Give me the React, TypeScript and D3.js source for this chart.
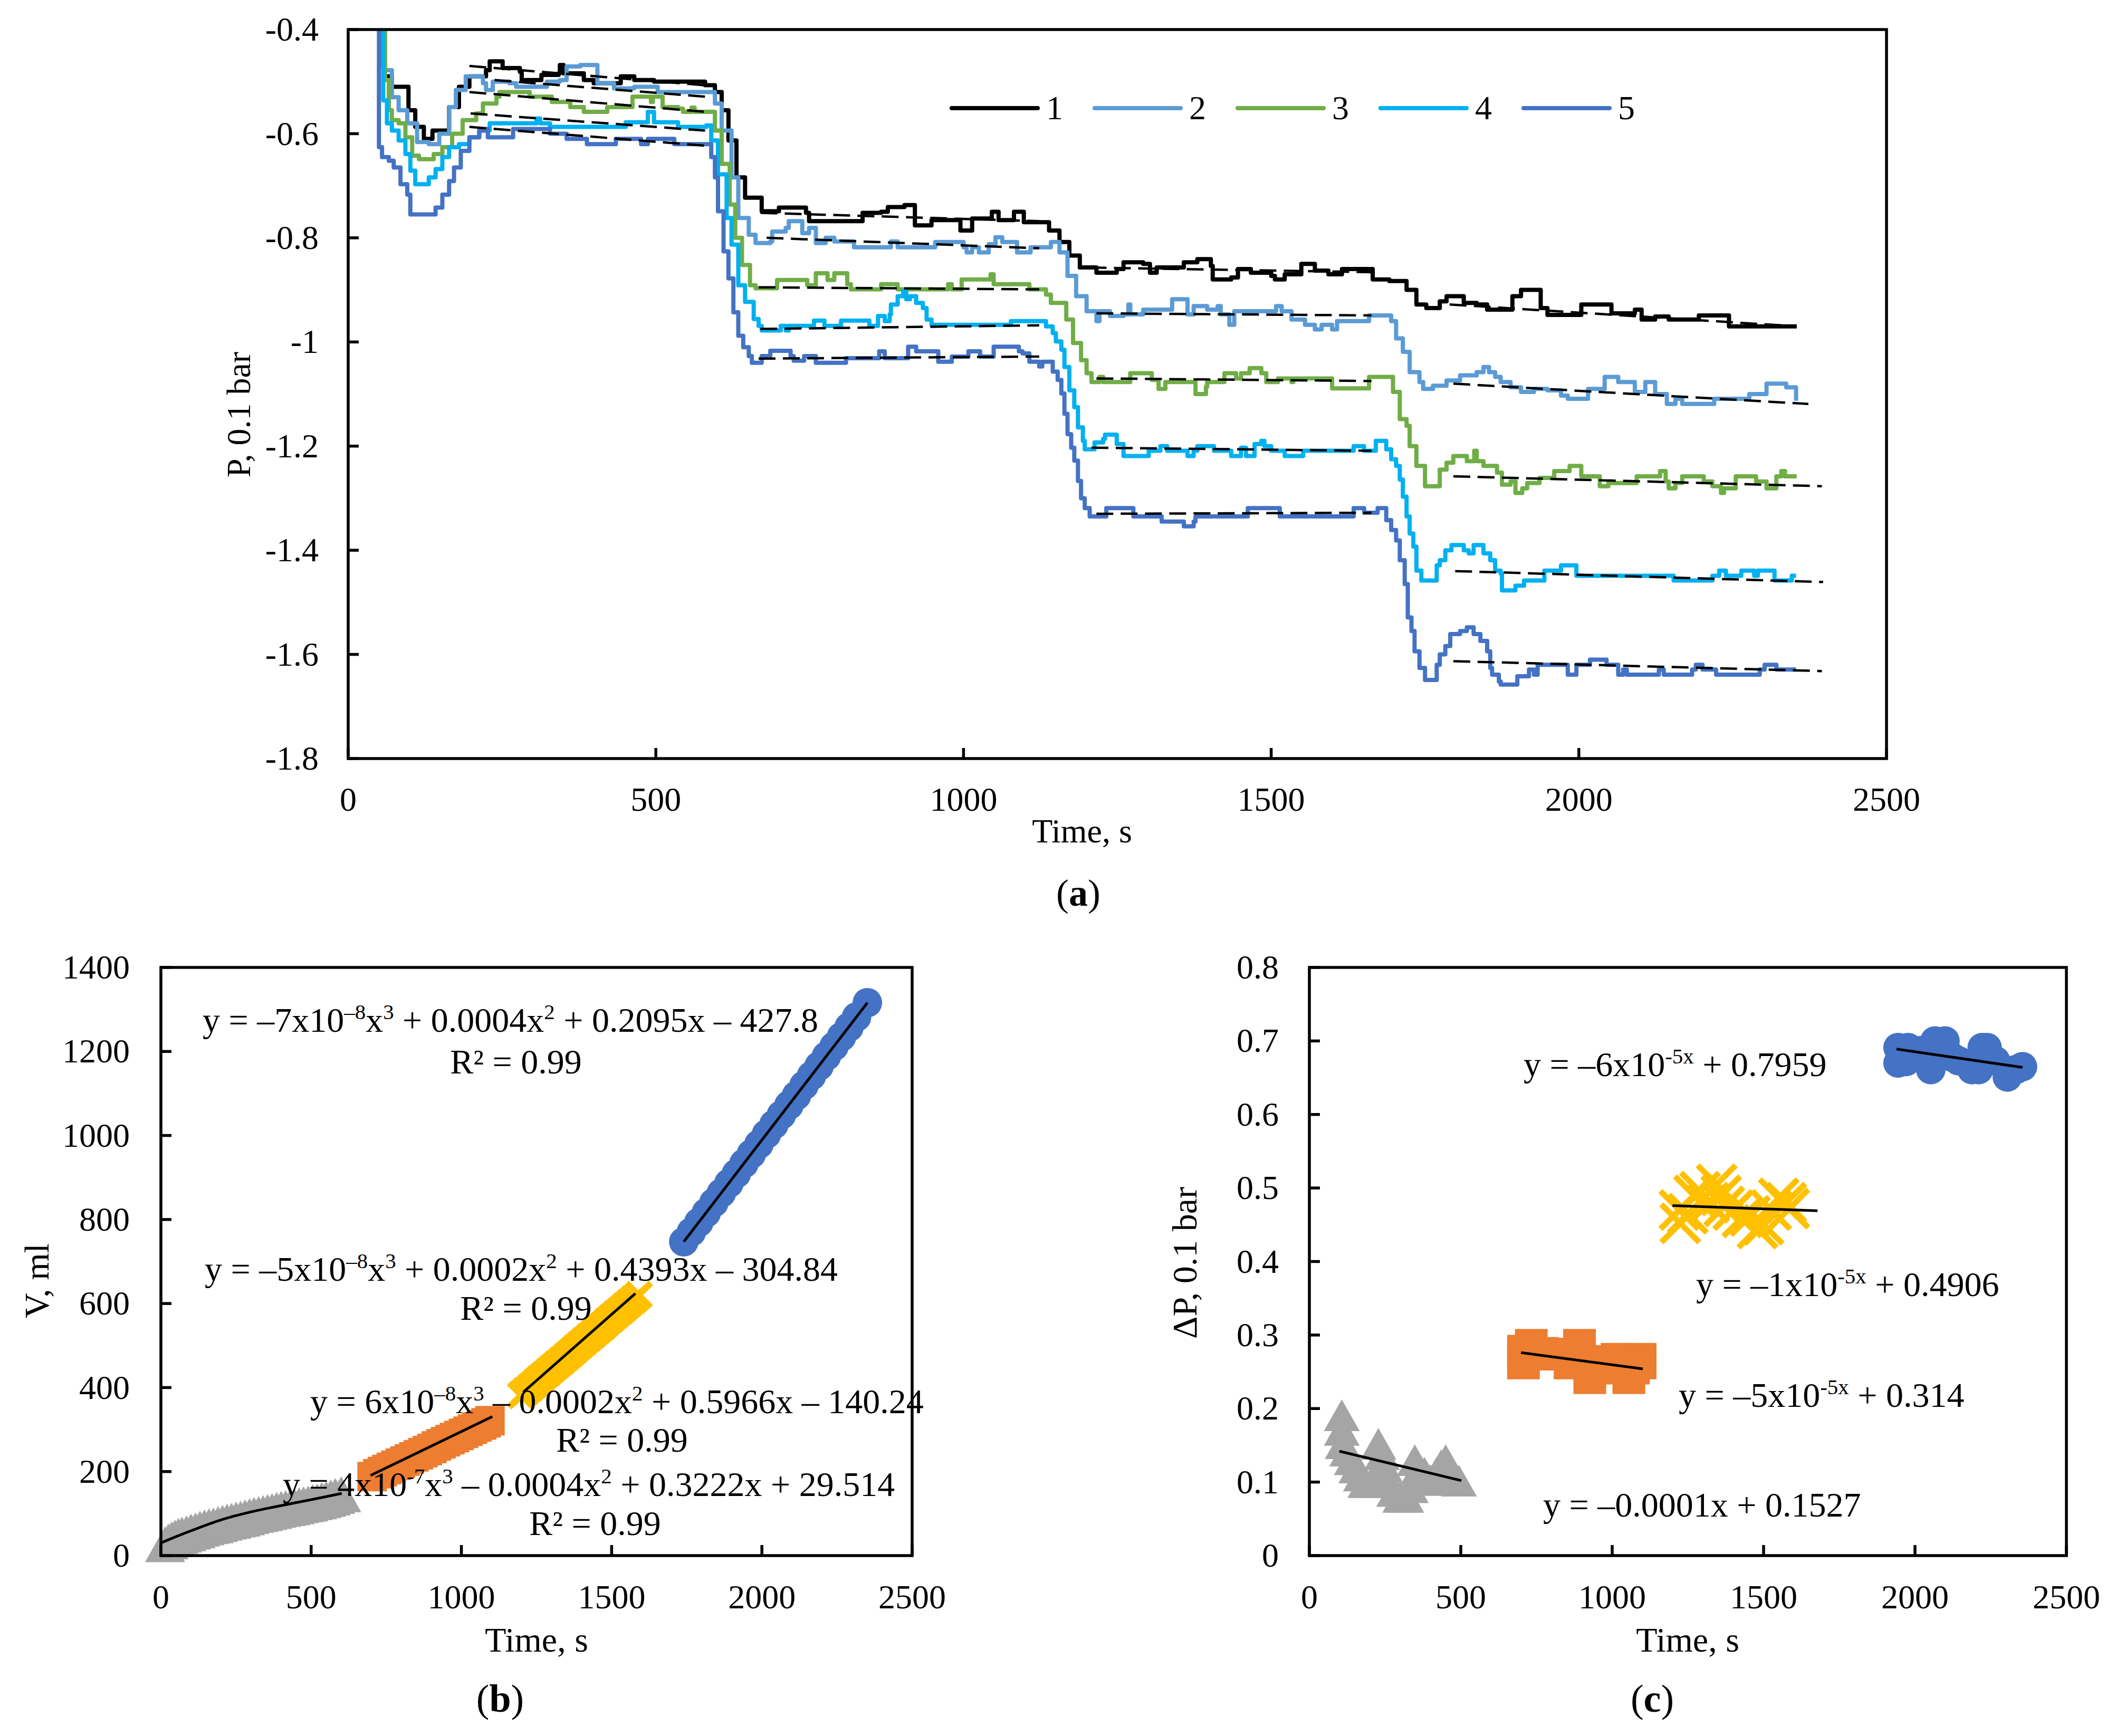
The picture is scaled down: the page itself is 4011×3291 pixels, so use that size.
import React from 'react';
import * as d3 from 'd3';

// ---------- data: panel (a), pressure vs time for five runs ----------
const s1 = [[48,-0.40],[57,-0.47],[60,-0.49],[71,-0.51],[82,-0.51],[98,-0.555],[109,-0.587],[123,-0.61],[137,-0.594],[150,-0.594],[164,-0.549],[180,-0.51],[197,-0.49],[224,-0.478],[230,-0.461],[241,-0.461],[251,-0.474],[279,-0.481],[282,-0.497],[301,-0.497],[314,-0.487],[342,-0.484],[344,-0.468],[350,-0.484],[383,-0.497],[399,-0.503],[443,-0.49],[465,-0.497],[497,-0.5],[580,-0.507],[596,-0.52],[607,-0.555],[618,-0.613],[631,-0.684],[645,-0.723],[672,-0.749],[700,-0.742],[744,-0.752],[749,-0.768],[831,-0.768],[836,-0.752],[866,-0.75],[877,-0.741],[904,-0.737],[921,-0.776],[948,-0.766],[992,-0.766],[995,-0.786],[1014,-0.763],[1046,-0.75],[1057,-0.766],[1082,-0.75],[1098,-0.77],[1128,-0.77],[1139,-0.786],[1156,-0.808],[1172,-0.834],[1189,-0.857],[1216,-0.867],[1249,-0.86],[1260,-0.847],[1292,-0.85],[1303,-0.867],[1314,-0.857],[1358,-0.847],[1380,-0.841],[1402,-0.854],[1405,-0.88],[1435,-0.876],[1446,-0.86],[1467,-0.867],[1500,-0.873],[1506,-0.88],[1522,-0.87],[1549,-0.85],[1571,-0.863],[1593,-0.87],[1615,-0.86],[1659,-0.86],[1665,-0.88],[1692,-0.883],[1709,-0.883],[1720,-0.9],[1736,-0.928],[1752,-0.935],[1774,-0.922],[1785,-0.912],[1802,-0.912],[1813,-0.925],[1834,-0.928],[1851,-0.938],[1884,-0.938],[1892,-0.912],[1906,-0.9],[1927,-0.9],[1938,-0.935],[1949,-0.948],[1993,-0.948],[2004,-0.928],[2042,-0.928],[2053,-0.945],[2091,-0.938],[2102,-0.957],[2124,-0.951],[2146,-0.957],[2184,-0.957],[2195,-0.949],[2242,-0.949],[2244,-0.97],[2354,-0.97]];
const s2 = [[48,-0.40],[60,-0.478],[71,-0.53],[82,-0.555],[96,-0.58],[112,-0.616],[131,-0.62],[148,-0.6],[164,-0.549],[175,-0.516],[191,-0.49],[219,-0.503],[224,-0.516],[235,-0.5],[262,-0.503],[273,-0.51],[312,-0.51],[323,-0.5],[344,-0.497],[355,-0.471],[377,-0.468],[405,-0.503],[432,-0.513],[465,-0.51],[503,-0.52],[585,-0.52],[596,-0.542],[607,-0.594],[623,-0.684],[634,-0.762],[651,-0.794],[662,-0.81],[686,-0.807],[689,-0.788],[711,-0.781],[716,-0.768],[733,-0.768],[738,-0.791],[749,-0.781],[760,-0.81],[776,-0.8],[790,-0.807],[822,-0.818],[882,-0.807],[893,-0.818],[954,-0.808],[1000,-0.818],[1005,-0.828],[1014,-0.818],[1025,-0.828],[1041,-0.812],[1052,-0.799],[1063,-0.808],[1087,-0.828],[1109,-0.818],[1142,-0.808],[1156,-0.828],[1169,-0.873],[1183,-0.912],[1200,-0.941],[1216,-0.96],[1221,-0.941],[1238,-0.95],[1260,-0.947],[1268,-0.928],[1271,-0.947],[1292,-0.938],[1339,-0.918],[1364,-0.947],[1374,-0.931],[1396,-0.938],[1413,-0.931],[1418,-0.947],[1432,-0.967],[1440,-0.941],[1508,-0.931],[1517,-0.941],[1533,-0.957],[1555,-0.967],[1571,-0.976],[1582,-0.967],[1599,-0.976],[1607,-0.96],[1659,-0.949],[1695,-0.96],[1703,-0.993],[1714,-1.019],[1725,-1.058],[1741,-1.077],[1747,-1.09],[1763,-1.084],[1785,-1.074],[1807,-1.064],[1834,-1.058],[1845,-1.048],[1854,-1.058],[1864,-1.067],[1873,-1.077],[1889,-1.087],[1906,-1.096],[1927,-1.09],[1949,-1.093],[1971,-1.103],[1982,-1.109],[2015,-1.09],[2042,-1.067],[2064,-1.077],[2091,-1.096],[2108,-1.077],[2124,-1.1],[2143,-1.119],[2157,-1.109],[2168,-1.119],[2220,-1.109],[2277,-1.1],[2305,-1.08],[2337,-1.087],[2353,-1.113]];
const s3 = [[50,-0.40],[60,-0.497],[66,-0.555],[71,-0.574],[82,-0.58],[93,-0.607],[104,-0.642],[115,-0.649],[139,-0.639],[153,-0.626],[169,-0.6],[186,-0.574],[208,-0.561],[219,-0.542],[241,-0.529],[246,-0.52],[290,-0.52],[295,-0.529],[331,-0.539],[361,-0.549],[383,-0.558],[421,-0.549],[462,-0.529],[492,-0.539],[495,-0.529],[511,-0.549],[536,-0.552],[544,-0.558],[558,-0.55],[563,-0.558],[588,-0.558],[596,-0.594],[607,-0.658],[620,-0.736],[629,-0.8],[640,-0.852],[653,-0.891],[662,-0.897],[697,-0.881],[746,-0.891],[760,-0.868],[779,-0.881],[790,-0.868],[811,-0.889],[817,-0.899],[866,-0.889],[893,-0.899],[975,-0.889],[981,-0.899],[997,-0.88],[1044,-0.87],[1049,-0.889],[1107,-0.899],[1134,-0.909],[1142,-0.925],[1153,-0.925],[1167,-0.957],[1178,-1.002],[1191,-1.035],[1200,-1.06],[1208,-1.077],[1221,-1.067],[1227,-1.077],[1271,-1.06],[1306,-1.073],[1317,-1.09],[1328,-1.077],[1377,-1.1],[1394,-1.086],[1396,-1.077],[1424,-1.06],[1443,-1.07],[1451,-1.06],[1465,-1.05],[1484,-1.06],[1492,-1.077],[1511,-1.07],[1533,-1.077],[1536,-1.07],[1599,-1.089],[1659,-1.067],[1698,-1.096],[1709,-1.148],[1720,-1.161],[1725,-1.2],[1736,-1.238],[1750,-1.277],[1774,-1.245],[1785,-1.232],[1796,-1.219],[1818,-1.229],[1830,-1.209],[1834,-1.229],[1845,-1.238],[1867,-1.251],[1875,-1.274],[1889,-1.268],[1897,-1.29],[1908,-1.281],[1916,-1.271],[1936,-1.261],[1960,-1.248],[1985,-1.238],[2004,-1.258],[2034,-1.277],[2048,-1.271],[2094,-1.258],[2132,-1.248],[2141,-1.268],[2146,-1.281],[2157,-1.271],[2168,-1.258],[2203,-1.268],[2217,-1.277],[2231,-1.29],[2236,-1.281],[2255,-1.258],[2288,-1.268],[2305,-1.281],[2321,-1.258],[2329,-1.248],[2335,-1.258],[2354,-1.258]];
const s4 = [[48,-0.40],[57,-0.536],[63,-0.58],[71,-0.594],[82,-0.613],[93,-0.639],[101,-0.671],[109,-0.697],[131,-0.684],[142,-0.668],[153,-0.645],[164,-0.626],[180,-0.62],[197,-0.607],[213,-0.594],[230,-0.58],[306,-0.571],[312,-0.58],[328,-0.587],[451,-0.578],[487,-0.558],[497,-0.578],[536,-0.587],[582,-0.584],[590,-0.613],[601,-0.678],[615,-0.762],[623,-0.813],[634,-0.891],[645,-0.923],[659,-0.956],[667,-0.969],[672,-0.978],[703,-0.969],[711,-0.978],[716,-0.969],[757,-0.959],[774,-0.969],[801,-0.959],[847,-0.969],[861,-0.95],[872,-0.96],[880,-0.947],[882,-0.928],[893,-0.912],[902,-0.902],[907,-0.918],[913,-0.912],[923,-0.925],[934,-0.935],[940,-0.957],[948,-0.967],[1077,-0.96],[1134,-0.97],[1145,-0.983],[1150,-0.999],[1159,-1.015],[1164,-1.048],[1172,-1.093],[1180,-1.125],[1186,-1.164],[1194,-1.19],[1197,-1.206],[1213,-1.193],[1227,-1.186],[1230,-1.178],[1249,-1.196],[1260,-1.219],[1301,-1.209],[1320,-1.2],[1331,-1.209],[1364,-1.219],[1374,-1.209],[1380,-1.2],[1407,-1.209],[1435,-1.219],[1451,-1.203],[1459,-1.219],[1473,-1.196],[1484,-1.19],[1489,-1.2],[1500,-1.209],[1522,-1.219],[1552,-1.209],[1634,-1.2],[1651,-1.209],[1670,-1.19],[1687,-1.206],[1695,-1.225],[1703,-1.238],[1709,-1.264],[1714,-1.297],[1720,-1.335],[1725,-1.368],[1731,-1.393],[1736,-1.439],[1744,-1.458],[1769,-1.429],[1774,-1.419],[1783,-1.4],[1793,-1.39],[1813,-1.4],[1821,-1.406],[1829,-1.39],[1845,-1.406],[1856,-1.419],[1864,-1.439],[1873,-1.445],[1875,-1.477],[1897,-1.468],[1911,-1.458],[1944,-1.439],[1971,-1.429],[1996,-1.449],[2154,-1.458],[2217,-1.449],[2228,-1.439],[2239,-1.449],[2264,-1.439],[2285,-1.449],[2291,-1.439],[2318,-1.458],[2346,-1.449],[2353,-1.449]];
const s5 = [[48,-0.40],[50,-0.626],[55,-0.645],[66,-0.652],[74,-0.665],[85,-0.697],[96,-0.717],[101,-0.755],[142,-0.742],[153,-0.717],[164,-0.691],[172,-0.665],[183,-0.633],[197,-0.607],[213,-0.594],[224,-0.591],[227,-0.607],[268,-0.591],[328,-0.6],[355,-0.61],[388,-0.62],[435,-0.61],[476,-0.62],[487,-0.61],[530,-0.62],[590,-0.645],[596,-0.684],[601,-0.749],[610,-0.826],[618,-0.878],[626,-0.943],[634,-0.988],[642,-1.01],[651,-1.027],[656,-1.04],[672,-1.027],[686,-1.017],[719,-1.027],[724,-1.036],[741,-1.027],[760,-1.04],[809,-1.031],[863,-1.018],[872,-1.031],[910,-1.009],[923,-1.018],[959,-1.038],[981,-1.028],[1008,-1.018],[1027,-1.028],[1049,-1.009],[1090,-1.018],[1096,-1.022],[1107,-1.038],[1123,-1.047],[1128,-1.038],[1145,-1.057],[1153,-1.073],[1159,-1.099],[1164,-1.138],[1169,-1.177],[1175,-1.203],[1180,-1.228],[1186,-1.267],[1191,-1.3],[1197,-1.319],[1205,-1.335],[1232,-1.319],[1276,-1.335],[1322,-1.345],[1358,-1.354],[1374,-1.345],[1377,-1.335],[1462,-1.319],[1514,-1.335],[1634,-1.319],[1651,-1.328],[1673,-1.319],[1687,-1.342],[1695,-1.361],[1703,-1.381],[1709,-1.419],[1717,-1.465],[1722,-1.529],[1728,-1.555],[1733,-1.594],[1741,-1.626],[1750,-1.649],[1769,-1.62],[1774,-1.6],[1783,-1.584],[1791,-1.561],[1807,-1.555],[1818,-1.548],[1829,-1.561],[1840,-1.574],[1851,-1.594],[1856,-1.626],[1859,-1.639],[1870,-1.652],[1873,-1.658],[1900,-1.642],[1919,-1.629],[1927,-1.639],[1933,-1.62],[1982,-1.639],[1996,-1.62],[2018,-1.61],[2045,-1.62],[2064,-1.639],[2072,-1.629],[2078,-1.639],[2130,-1.629],[2138,-1.639],[2184,-1.629],[2190,-1.62],[2201,-1.629],[2223,-1.639],[2294,-1.629],[2302,-1.62],[2321,-1.629],[2353,-1.629]];

// dashed linear trends per plateau: [t0, p0, t1, p1]
const trends1 = [[197,-0.47,580,-0.507],[670,-0.752,1123,-0.768],[1205,-0.857,1663,-0.866],[1790,-0.928,2354,-0.97]];
const trends2 = [[238,-0.497,580,-0.529],[680,-0.8,1123,-0.82],[1216,-0.945,1663,-0.949],[1796,-1.08,2373,-1.119]];
const trends3 = [[197,-0.52,580,-0.558],[667,-0.895,1123,-0.899],[1216,-1.07,1663,-1.075],[1796,-1.258,2395,-1.277]];
const trends4 = [[199,-0.561,580,-0.594],[670,-0.975,1123,-0.968],[1208,-1.203,1663,-1.209],[1799,-1.44,2397,-1.461]];
const trends5 = [[197,-0.587,580,-0.623],[667,-1.032,1123,-1.028],[1216,-1.33,1663,-1.328],[1796,-1.613,2395,-1.632]];

const seriesNames = ['1', '2', '3', '4', '5'];
const seriesColors = ['#000000', '#5B9BD5', '#70AD47', '#00B0F0', '#4472C4'];
const aXTicks = [0, 500, 1000, 1500, 2000, 2500];
const aYTicks = [-0.4, -0.6, -0.8, -1, -1.2, -1.4, -1.6, -1.8];

// ---------- data: panel (b), volume vs time ----------
const bGray = [[14,22],[25,29],[36,34],[47,38],[58,42],[70,45],[85,48],[100,52],[115,55],[130,59],[145,62],[160,65],[175,67],[190,70],[205,73],[220,76],[235,78],[250,81],[265,83],[280,86],[295,89],[310,92],[325,94],[340,96],[355,99],[370,101],[385,104],[400,106],[415,108],[430,110],[445,112],[460,115],[475,117],[490,119],[505,122],[520,124],[535,127],[550,130],[565,133],[580,137],[600,141]];
const bOrange = [[703,188],[722,195],[737,200],[752,205],[767,210],[782,215],[797,220],[812,225],[827,230],[842,235],[857,240],[872,245],[887,250],[902,255],[917,261],[932,266],[947,271],[962,276],[977,281],[992,286],[1007,291],[1022,296],[1037,301],[1052,306],[1067,311],[1082,316],[1095,321]];
const bYellow = [[1199,382],[1214,391],[1229,400],[1244,409],[1259,419],[1274,428],[1289,437],[1304,446],[1319,455],[1334,464],[1349,473],[1364,482],[1379,492],[1394,501],[1409,510],[1424,519],[1439,528],[1454,537],[1469,546],[1484,556],[1499,565],[1514,574],[1529,583],[1544,592],[1559,601],[1574,610],[1590,620]];
const bBlue = [[1740,747],[1765,770],[1790,793],[1815,816],[1840,840],[1865,863],[1890,886],[1915,909],[1940,933],[1965,956],[1990,979],[2015,1003],[2040,1026],[2065,1049],[2090,1072],[2115,1095],[2140,1119],[2165,1142],[2190,1165],[2215,1189],[2240,1212],[2265,1235],[2290,1258],[2315,1282],[2351,1316]];
const bFitGray = [[0,30],[50,45],[100,59],[200,85],[300,104],[400,119],[500,133],[602,148]];
const bFitOrange = [[698,191],[1103,331]];
const bFitYellow = [[1206,389],[1579,624]];
const bFitBlue = [[1740,747],[2351,1316]];
const bXTicks = [0, 500, 1000, 1500, 2000, 2500];
const bYTicks = [0, 200, 400, 600, 800, 1000, 1200, 1400];

// ---------- data: panel (c), pressure drop vs time ----------
const cGray = [[107,0.188],[107,0.168],[110,0.15],[125,0.14],[140,0.128],[155,0.117],[170,0.106],[185,0.097],[205,0.097],[228,0.149],[240,0.135],[250,0.118],[260,0.1],[280,0.085],[300,0.077],[320,0.077],[335,0.09],[348,0.127],[360,0.115],[380,0.11],[400,0.1],[420,0.11],[435,0.12],[450,0.127],[465,0.115],[480,0.105],[494,0.099]];
const cOrange = [[707,0.278],[707,0.262],[733,0.286],[770,0.275],[810,0.274],[861,0.262],[892,0.286],[926,0.242],[940,0.26],[964,0.264],[990,0.255],[1016,0.267],[1055,0.242],[1070,0.255],[1092,0.267],[1092,0.262]];
const cYellow = [[1222,0.47],[1225,0.452],[1250,0.465],[1270,0.49],[1290,0.495],[1320,0.48],[1345,0.505],[1360,0.49],[1370,0.475],[1400,0.47],[1430,0.46],[1455,0.462],[1480,0.445],[1500,0.45],[1525,0.47],[1550,0.486],[1575,0.48],[1585,0.472]];
const cBlue = [[1944,0.691],[1977,0.691],[1944,0.67],[1970,0.672],[2022,0.687],[2052,0.661],[2066,0.7],[2099,0.7],[2122,0.678],[2144,0.673],[2188,0.661],[2210,0.661],[2222,0.691],[2238,0.691],[2266,0.673],[2305,0.651],[2333,0.661],[2355,0.665]];
const cFitGray = [[99,0.142],[502,0.102]];
const cFitOrange = [[699,0.276],[1101,0.254]];
const cFitYellow = [[1199,0.476],[1678,0.469]];
const cFitBlue = [[1939,0.689],[2355,0.664]];
const cXTicks = [0, 500, 1000, 1500, 2000, 2500];
const cYTicks = [0, 0.1, 0.2, 0.3, 0.4, 0.5, 0.6, 0.7, 0.8];

const GRAY = '#A5A5A5', ORANGE = '#ED7D31', YELLOW = '#FFC000', BLUE = '#4472C4';
const FONT = '"Liberation Serif", "Times New Roman", serif';

type Part = [string, boolean];
const eqB: { x: number; y: number; parts: Part[] }[] = [
  { x: 384, y: 1956, parts: [['y = –7x10', false], ['–8', true], ['x', false], ['3', true], [' + 0.0004x', false], ['2', true], [' + 0.2095x – 427.8', false]] },
  { x: 388, y: 2428, parts: [['y = –5x10', false], ['–8', true], ['x', false], ['3', true], [' + 0.0002x', false], ['2', true], [' + 0.4393x – 304.84', false]] },
  { x: 588, y: 2679, parts: [['y = 6x10', false], ['–8', true], ['x', false], ['3', true], [' – 0.0002x', false], ['2', true], [' + 0.5966x – 140.24', false]] },
  { x: 536, y: 2836, parts: [['y = 4x10', false], ['-7', true], ['x', false], ['3', true], [' – 0.0004x', false], ['2', true], [' + 0.3222x + 29.514', false]] },
];
const r2B = [[978, 2035], [997, 2502], [1179, 2752], [1128, 2910]];
const eqC: { x: number; y: number; parts: Part[] }[] = [
  { x: 2888, y: 2040, parts: [['y = –6x10', false], ['-5x', true], [' + 0.7959', false]] },
  { x: 3215, y: 2457, parts: [['y = –1x10', false], ['-5x', true], [' + 0.4906', false]] },
  { x: 3182, y: 2667, parts: [['y = –5x10', false], ['-5x', true], [' + 0.314', false]] },
  { x: 2925, y: 2875, parts: [['y = –0.0001x + 0.1527', false]] },
];

const Eq = ({ x, y, parts, fs }: { x: number; y: number; parts: Part[]; fs: number }) => {
  const up = fs * 0.36;
  let prevSup = false;
  return (
    <text x={x} y={y} fontSize={fs} fontFamily={FONT} fill="#000">
      {parts.map(([t, sup], i) => {
        const dy = sup ? -up : prevSup ? up : 0;
        prevSup = sup;
        return (
          <tspan key={i} dy={dy} fontSize={sup ? fs * 0.62 : fs}>{t}</tspan>
        );
      })}
    </text>
  );
};

const Frame = ({ x0, x1, y0, y1, xs, ys, xScale, yScale, fs, xLabelY, yLabelX, fmtY }: any) => (
  <g>
    <rect x={x0} y={y0} width={x1 - x0} height={y1 - y0} fill="none" stroke="#000" strokeWidth={5.5} />
    {xs.map((v: number) => (
      <g key={'x' + v}>
        <line x1={xScale(v)} x2={xScale(v)} y1={y1} y2={y1 - 20} stroke="#000" strokeWidth={5.5} />
        <text x={xScale(v)} y={xLabelY} textAnchor="middle" fontSize={fs} fontFamily={FONT}>{v}</text>
      </g>
    ))}
    {ys.map((v: number) => (
      <g key={'y' + v}>
        <line x1={x0} x2={x0 + 20} y1={yScale(v)} y2={yScale(v)} stroke="#000" strokeWidth={5.5} />
        <text x={yLabelX} y={yScale(v)} dy="0.33em" textAnchor="end" fontSize={fs} fontFamily={FONT}>{fmtY(v)}</text>
      </g>
    ))}
  </g>
);

const triB = 'M0,-38L38,30L-38,30Z';
const triC = 'M0,-34L34,26L-34,26Z';
const cross = (h: number) => `M${-h},${-h}L${h},${h}M${-h},${h}L${h},${-h}`;

export default function App() {
  // panel (a)
  const xA = d3.scaleLinear().domain([0, 2500]).range([660, 3576]);
  const yA = d3.scaleLinear().domain([-1.8, -0.4]).range([1438, 56]);
  const stepLine = d3.line<number[]>().x(d => xA(d[0])).y(d => yA(d[1])).curve(d3.curveStepAfter);
  const allSeries = [s1, s2, s3, s4, s5];
  const allTrends = [trends1, trends2, trends3, trends4, trends5];

  // panel (b)
  const xB = d3.scaleLinear().domain([0, 2500]).range([305, 1729]);
  const yB = d3.scaleLinear().domain([0, 1400]).range([2949, 1834]);
  const lineB = d3.line<number[]>().x(d => xB(d[0])).y(d => yB(d[1])).curve(d3.curveMonotoneX);

  // panel (c)
  const xC = d3.scaleLinear().domain([0, 2500]).range([2482, 3917]);
  const yC = d3.scaleLinear().domain([0, 0.8]).range([2949, 1834]);
  const lineC = d3.line<number[]>().x(d => xC(d[0])).y(d => yC(d[1]));

  const legendX0 = 1804, legendStep = 271, legendY = 205;

  return (
    <svg width={4011} height={3291} viewBox="0 0 4011 3291"
      style={{ position: 'absolute', left: 0, top: 0, background: '#fff' }}>
      <rect width={4011} height={3291} fill="#fff" />
      <defs>
        <clipPath id="clipA"><rect x={660} y={56} width={2916} height={1382} /></clipPath>
      </defs>

      {/* ---------------- panel (a) ---------------- */}
      <g clipPath="url(#clipA)">
        {allSeries.map((s, i) => (
          <path key={i} d={stepLine(s) || ''} fill="none" stroke={seriesColors[i]} strokeWidth={8} strokeLinejoin="round" />
        ))}
        {allTrends.map((tr, i) => tr.map((t, j) => (
          <line key={i + '-' + j} x1={xA(t[0])} y1={yA(t[1])} x2={xA(t[2])} y2={yA(t[3])}
            stroke="#000" strokeWidth={4.5} strokeDasharray="32 14" />
        )))}
      </g>
      <Frame x0={660} x1={3576} y0={56} y1={1438} xs={aXTicks} ys={aYTicks} xScale={xA} yScale={yA}
        fs={64} xLabelY={1537} yLabelX={604} fmtY={(v: number) => String(v)} />
      {seriesNames.map((n, i) => (
        <g key={n}>
          <line x1={legendX0 + i * legendStep} x2={legendX0 + i * legendStep + 163} y1={legendY} y2={legendY}
            stroke={seriesColors[i]} strokeWidth={8} strokeLinecap="round" />
          <text x={legendX0 + i * legendStep + 195} y={legendY} dy="0.33em" textAnchor="middle" fontSize={64} fontFamily={FONT}>{n}</text>
        </g>
      ))}
      <text transform="translate(474,786) rotate(-90)" textAnchor="middle" fontSize={64} fontFamily={FONT}>P, 0.1 bar</text>
      <text x={2051} y={1597} textAnchor="middle" fontSize={64} fontFamily={FONT}>Time, s</text>
      <text x={2044} y={1717} textAnchor="middle" fontSize={72} fontFamily={FONT}>(<tspan fontWeight="bold">a</tspan>)</text>

      {/* ---------------- panel (b) ---------------- */}
      <g>
        {bGray.map((d, i) => (
          <path key={'bg' + i} d={triB} transform={`translate(${xB(d[0])},${yB(d[1])})`} fill={GRAY} />
        ))}
        {bOrange.map((d, i) => (
          <rect key={'bo' + i} x={xB(d[0]) - 28} y={yB(d[1]) - 28} width={56} height={56} fill={ORANGE} />
        ))}
        {bYellow.map((d, i) => (
          <path key={'by' + i} d={cross(23)} transform={`translate(${xB(d[0])},${yB(d[1])})`} stroke={YELLOW} strokeWidth={12} fill="none" />
        ))}
        {bBlue.map((d, i) => (
          <circle key={'bb' + i} cx={xB(d[0])} cy={yB(d[1])} r={28} fill={BLUE} />
        ))}
        {[bFitGray, bFitOrange, bFitYellow, bFitBlue].map((f, i) => (
          <path key={'bf' + i} d={lineB(f) || ''} fill="none" stroke="#000" strokeWidth={5} />
        ))}
      </g>
      <Frame x0={305} x1={1729} y0={1834} y1={2949} xs={bXTicks} ys={bYTicks} xScale={xB} yScale={yB}
        fs={64} xLabelY={3049} yLabelX={246} fmtY={(v: number) => String(v)} />
      {eqB.map((e, i) => <Eq key={'eb' + i} x={e.x} y={e.y} parts={e.parts} fs={66} />)}
      {r2B.map((p, i) => (
        <text key={'r' + i} x={p[0]} y={p[1]} textAnchor="middle" fontSize={66} fontFamily={FONT}>R² = 0.99</text>
      ))}
      <text transform="translate(92,2428) rotate(-90)" textAnchor="middle" fontSize={66} fontFamily={FONT}>V, ml</text>
      <text x={1017} y={3131} textAnchor="middle" fontSize={66} fontFamily={FONT}>Time, s</text>
      <text x={948} y={3245} textAnchor="middle" fontSize={74} fontFamily={FONT}>(<tspan fontWeight="bold">b</tspan>)</text>

      {/* ---------------- panel (c) ---------------- */}
      <g>
        {cGray.map((d, i) => (
          <path key={'cg' + i} d={triC} transform={`translate(${xC(d[0])},${yC(d[1])})`} fill={GRAY} />
        ))}
        {cOrange.map((d, i) => (
          <rect key={'co' + i} x={xC(d[0]) - 31} y={yC(d[1]) - 31} width={62} height={62} fill={ORANGE} />
        ))}
        {cYellow.map((d, i) => (
          <path key={'cy' + i} d={cross(36)} transform={`translate(${xC(d[0])},${yC(d[1])})`} stroke={YELLOW} strokeWidth={11} fill="none" />
        ))}
        {cBlue.map((d, i) => (
          <circle key={'cb' + i} cx={xC(d[0])} cy={yC(d[1])} r={28} fill={BLUE} />
        ))}
        {[cFitGray, cFitOrange, cFitYellow, cFitBlue].map((f, i) => (
          <path key={'cf' + i} d={lineC(f) || ''} fill="none" stroke="#000" strokeWidth={5} />
        ))}
      </g>
      <Frame x0={2482} x1={3917} y0={1834} y1={2949} xs={cXTicks} ys={cYTicks} xScale={xC} yScale={yC}
        fs={64} xLabelY={3049} yLabelX={2424} fmtY={(v: number) => String(v)} />
      {eqC.map((e, i) => <Eq key={'ec' + i} x={e.x} y={e.y} parts={e.parts} fs={66} />)}
      <text transform="translate(2268,2394) rotate(-90)" textAnchor="middle" fontSize={66} fontFamily={FONT}>ΔP, 0.1 bar</text>
      <text x={3199} y={3131} textAnchor="middle" fontSize={66} fontFamily={FONT}>Time, s</text>
      <text x={3132} y={3245} textAnchor="middle" fontSize={74} fontFamily={FONT}>(<tspan fontWeight="bold">c</tspan>)</text>
    </svg>
  );
}
